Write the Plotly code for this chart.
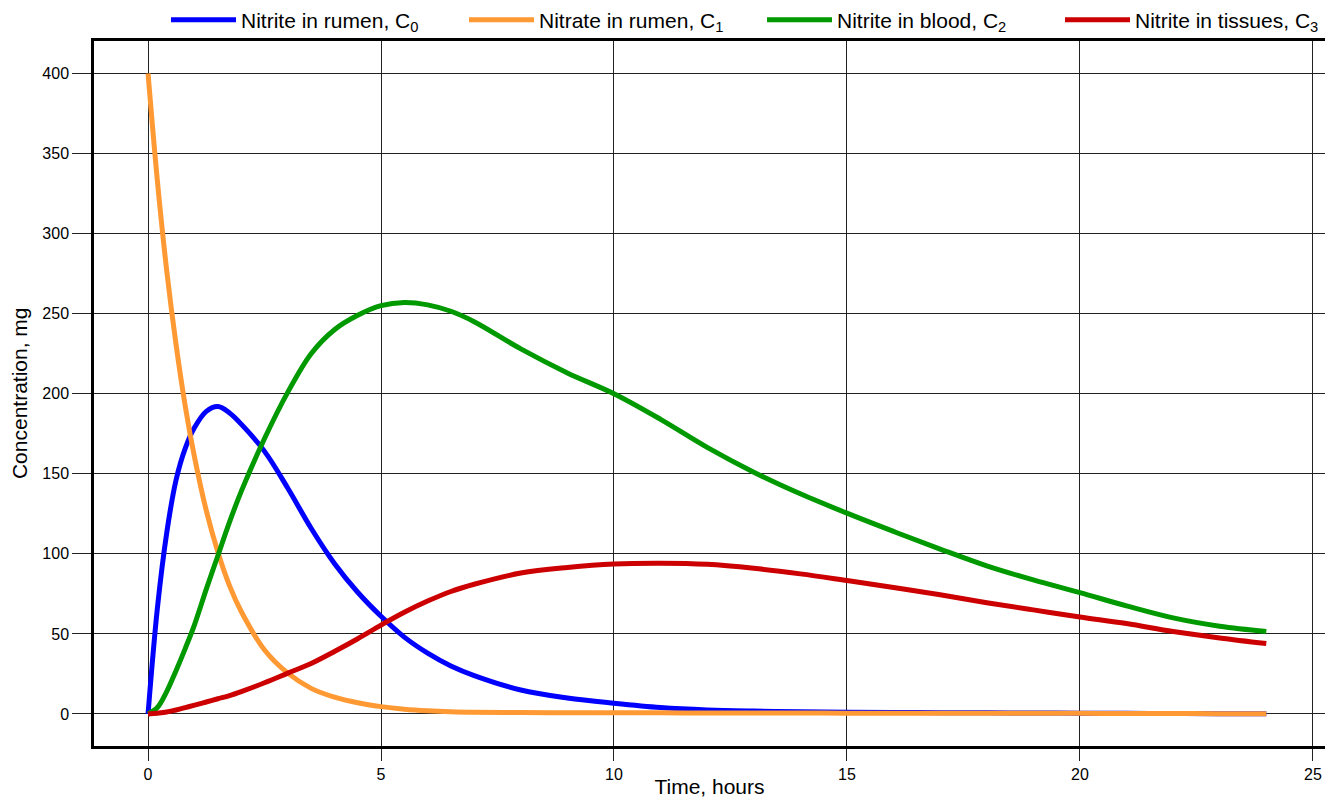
import plotly.graph_objects as go

time_h = [0, 0.2, 0.4, 0.6, 0.8, 1.0, 1.25, 1.5, 1.75, 2.0, 2.5, 3.0, 3.5, 4.0, 4.5, 5.0, 5.5, 6.0, 6.5, 7.0,
          8.0, 9.0, 10, 11, 12, 13, 14, 15, 16, 17, 18, 19, 20, 21, 22, 23, 24]

nitrite_rumen_c0 = [0, 66, 113, 146, 166, 179, 189, 192, 188, 181, 164, 141, 116, 94, 76, 61, 48, 38, 30, 24,
                    15, 10, 6.7, 4, 2.5, 1.8, 1.4, 1.1, 0.9, 0.8, 0.7, 0.6, 0.5, 0.4, 0.3, 0.2, 0.1]

nitrate_rumen_c1 = [400, 333, 277, 231, 192, 160, 127, 101, 80, 64, 40, 25.5, 16, 10.5, 7, 4.6, 3, 2, 1.4, 1.1,
                    0.9, 0.8, 0.7, 0.7, 0.6, 0.6, 0.6, 0.5, 0.5, 0.5, 0.4, 0.4, 0.4, 0.3, 0.3, 0.2, 0.1]

nitrite_blood_c2 = [0, 4, 14, 27, 41, 56, 78, 99, 120, 139, 172, 201, 225, 240, 249, 255, 257, 255.5, 251.5, 245,
                    228, 213, 200, 184, 166.5, 151, 137.5, 125.4, 114, 103, 92.5, 83.7, 75.8, 67.5, 60, 54.8, 51.5]

nitrite_tissues_c3 = [0, 0.5, 1.2, 2.5, 4, 5.5, 7.5, 9.5, 11.5, 14, 19.5, 25.5, 31.5, 39, 47, 55.5, 63.5, 70.5, 76.5, 81,
                      88, 91.5, 93.7, 94.2, 93.5, 91, 87.5, 83.3, 79, 74.5, 69.5, 65, 60.6, 56.5, 51.5, 47.5, 44]

series_names = ["Nitrite in rumen, C<sub>0</sub>", "Nitrate in rumen, C<sub>1</sub>",
                "Nitrite in blood, C<sub>2</sub>", "Nitrite in tissues, C<sub>3</sub>"]
series_colors = ["#0000FF", "#FF9933", "#009900", "#CC0000"]
x_ticks = [0, 5, 10, 15, 20, 25]
y_ticks = [0, 50, 100, 150, 200, 250, 300, 350, 400]

# page body adds an 8px offset; figure is sized so the result lands on the reference positions
W, H = 1325, 790

fig = go.Figure()
for name, vals, col in zip(series_names,
                           [nitrite_rumen_c0, nitrate_rumen_c1, nitrite_blood_c2, nitrite_tissues_c3],
                           series_colors):
    fig.add_trace(go.Scatter(x=time_h, y=vals, mode="lines", name=name,
                             line=dict(color=col, width=5, shape="spline", smoothing=1.0)))

fig.update_layout(
    width=W, height=H,
    margin=dict(l=86, r=8, t=32, b=52),
    plot_bgcolor="white", paper_bgcolor="white",
    font=dict(family="Liberation Sans, Arial, sans-serif", color="#000", size=16),
    showlegend=True,
    legend=dict(orientation="h", xref="container", yref="container",
                x=158 / W, xanchor="left", y=1 - 12 / H, yanchor="middle",
                font=dict(size=21), itemwidth=65, entrywidth=218, entrywidthmode="pixels",
                traceorder="normal", bgcolor="rgba(0,0,0,0)"),
    xaxis=dict(range=[-1.16, 25.26], tickvals=x_ticks, showgrid=True, gridcolor="#222", gridwidth=1,
               showline=True, linecolor="#000", linewidth=2.5, mirror=True, automargin=False,
               ticks="outside", ticklen=12, tickcolor="#222", tickwidth=1, zeroline=False,
               tickfont=dict(size=16),
               title=dict(text="Time, hours", font=dict(size=21), standoff=0)),
    yaxis=dict(range=[-20, 420.6], tickvals=y_ticks, showgrid=True, gridcolor="#222", gridwidth=1,
               showline=True, linecolor="#000", linewidth=2.5, mirror=True, automargin=False,
               ticks="outside", ticklen=19, tickcolor="#222", tickwidth=1, zeroline=False,
               tickfont=dict(size=16),
               title=dict(text="Concentration, mg", font=dict(size=21), standoff=12)),
)

fig.write_html("out.html")
